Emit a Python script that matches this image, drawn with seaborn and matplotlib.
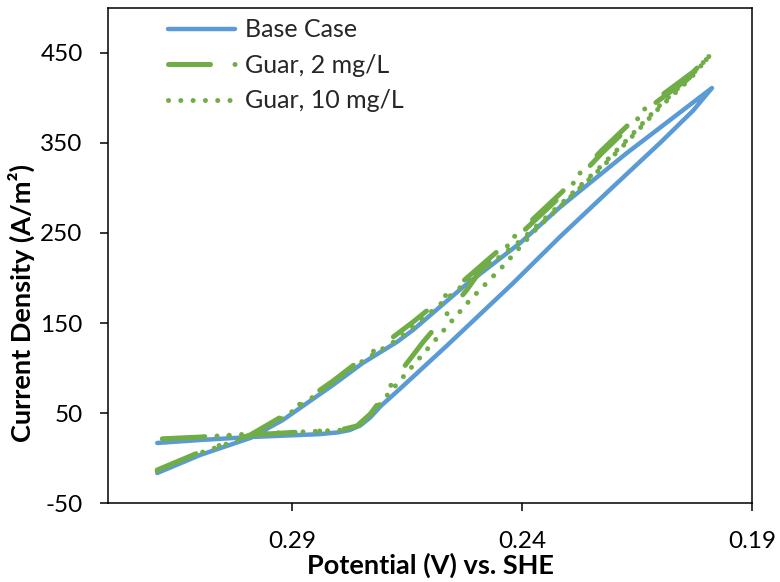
import numpy as np
import pandas as pd
import seaborn as sns
import matplotlib.pyplot as plt
from matplotlib.ticker import FormatStrFormatter

# cyclic voltammetry loops (potential in V vs. SHE, current in A/m2)
base_potential = [0.3193, 0.3100, 0.2991, 0.2920, 0.2811, 0.2746, 0.2672, 0.2637, 0.2528, 0.2404,
                  0.2317, 0.2172, 0.2100, 0.1987,
                  0.2028, 0.2100, 0.2209, 0.2317, 0.2420, 0.2563, 0.2665, 0.2707, 0.2730, 0.2752,
                  0.2775, 0.2800, 0.2840, 0.2883, 0.2991, 0.3100, 0.3193]
base_current = [-16.7, 3.3, 22.2, 42.2, 81.1, 105.6, 128.9, 142.2, 190.0, 238.9,
                278.9, 338.9, 367.0, 411.1,
                386.0, 350.0, 298.0, 246.0, 194.0, 125.0, 77.0, 57.8, 45.0, 36.0,
                31.0, 28.5, 26.5, 25.6, 23.3, 20.0, 16.7]

guar2_potential = [0.3193, 0.3100, 0.2991, 0.2920, 0.2811, 0.2746, 0.2709, 0.2637, 0.2530, 0.2420,
                   0.2313, 0.2226, 0.2122, 0.2028, 0.1991,
                   0.2028, 0.2122, 0.2226, 0.2313, 0.2420, 0.2491, 0.2520, 0.2578, 0.2615, 0.2670,
                   0.2702, 0.2730, 0.2759, 0.2796, 0.2883, 0.2991, 0.3100, 0.3193]
guar2_current = [-13.3, 6.7, 25.6, 46.7, 85.6, 111.1, 123.3, 151.1, 195.6, 244.4,
                 295.6, 342.2, 393.3, 428.9, 447.8,
                 425.6, 390.0, 338.9, 292.2, 241.1, 207.8, 186.7, 151.1, 128.9, 92.2,
                 67.8, 48.9, 35.6, 31.1, 28.9, 25.6, 23.3, 21.1]

guar10_potential = [0.3193, 0.3100, 0.2991, 0.2920, 0.2811, 0.2746, 0.2672, 0.2611, 0.2528, 0.2404,
                    0.2311, 0.2230, 0.2172, 0.2104, 0.2035, 0.1991,
                    0.2035, 0.2104, 0.2172, 0.2230, 0.2311, 0.2367, 0.2439, 0.2513, 0.2583, 0.2670,
                    0.2698, 0.2726, 0.2752, 0.2785, 0.2883, 0.2991, 0.3100, 0.3193]
guar10_current = [-14.4, 5.6, 24.4, 44.4, 83.3, 107.8, 131.1, 156.7, 192.2, 241.1,
                  284.4, 323.3, 353.3, 390.0, 423.3, 447.8,
                  421.1, 387.8, 351.1, 321.1, 282.2, 255.6, 214.4, 175.6, 134.4, 83.3,
                  66.7, 48.9, 36.7, 31.1, 28.9, 26.7, 23.3, 20.0]

series_labels = ['Base Case', 'Guar, 2 mg/L', 'Guar, 10 mg/L']
x_ticks = [0.29, 0.24, 0.19]
y_ticks = [-50, 50, 150, 250, 350, 450]

sns.set_style("ticks")
plt.rcParams['font.family'] = ['Lato', 'DejaVu Sans']
plt.rcParams['axes.unicode_minus'] = False

blue = '#5B9BD5'
green = '#70AD47'

fig = plt.figure(figsize=(7.8, 5.82), dpi=100)
ax = fig.add_axes([0.1385, 0.1357, 0.8256, 0.8506])

sns.lineplot(x=base_potential, y=base_current, sort=False, estimator=None, ax=ax,
             color=blue, lw=3.2, solid_capstyle='round', solid_joinstyle='round',
             label=series_labels[0])
sns.lineplot(x=guar2_potential, y=guar2_current, sort=False, estimator=None, ax=ax,
             color=green, lw=3.6, linestyle=(0, (8.4, 4.9, 0.01, 4.9)),
             dash_capstyle='round', label=series_labels[1])
sns.lineplot(x=guar10_potential, y=guar10_current, sort=False, estimator=None, ax=ax,
             color=green, lw=3.6, linestyle=(0, (0.01, 2.45)),
             dash_capstyle='round', label=series_labels[2])

ax.set_xlim(0.33, 0.19)
ax.set_ylim(-50, 500)
ax.set_xticks(x_ticks)
ax.set_yticks(y_ticks)
ax.xaxis.set_major_formatter(FormatStrFormatter('%.2f'))
ax.tick_params(axis='both', direction='out', length=5.8, width=1.1, color='black',
               labelsize=17.5, labelcolor='black')
ax.tick_params(axis='y', pad=12.5)
ax.tick_params(axis='x', pad=14)
for sp in ax.spines.values():
    sp.set_linewidth(1.1)
    sp.set_color('black')

ax.set_xlabel('Potential (V) vs. SHE', fontsize=19.5, fontweight='bold', color='black')
ax.set_ylabel('Current Density (A/m²)', fontsize=19.5, fontweight='bold', color='black')
ax.xaxis.set_label_coords(0.5, -0.1)
ax.yaxis.set_label_coords(-0.113, 0.404)

ax.legend(loc='upper left', bbox_to_anchor=(0.0924, 0.979), frameon=False, fontsize=18,
          handlelength=2.7, handletextpad=0.38, labelspacing=0.5,
          borderaxespad=0, borderpad=0)

fig.savefig('out.png', dpi=100)
